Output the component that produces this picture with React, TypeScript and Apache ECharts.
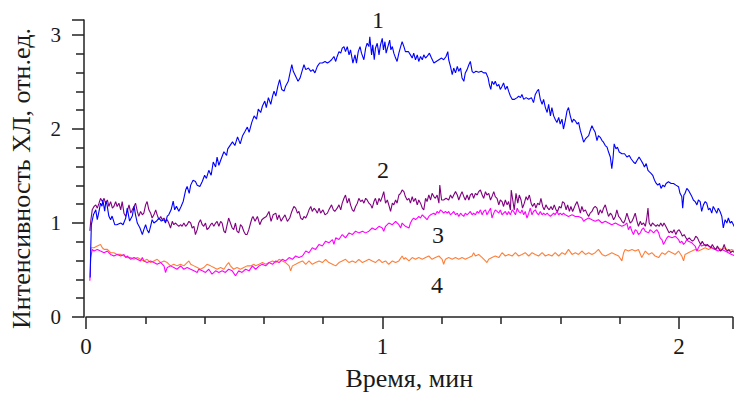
import React, { useEffect, useRef } from "react";
import * as echarts from "echarts";

// Time (min) / intensity (rel. units) pairs
const curve1Blue: number[][] = [
  [0.014,0.42],[0.016,0.737],[0.018,0.982],[0.025,1.087],[0.033,1.14],[0.038,1.035],[0.044,1.126],[0.049,1.211],[0.054,1.179],[0.057,1.245],
  [0.063,1.126],[0.067,1.232],[0.071,1.193],[0.077,1.074],[0.083,1.035],[0.088,1.074],[0.097,0.982],[0.104,0.982],[0.117,1.0],[0.125,0.982],
  [0.134,1.053],[0.139,1.158],[0.147,1.021],[0.156,1.074],[0.162,1.179],[0.167,1.087],[0.173,1.0],[0.182,0.947],[0.19,0.877],[0.195,0.929],
  [0.201,0.982],[0.206,0.929],[0.212,0.895],[0.218,0.968],[0.223,1.035],[0.229,1.0],[0.238,1.021],[0.246,1.053],[0.254,1.021],[0.263,1.035],
  [0.268,1.0],[0.274,1.074],[0.279,1.087],[0.287,1.14],[0.294,1.232],[0.299,1.14],[0.305,1.179],[0.313,1.126],[0.321,1.179],[0.328,1.232],
  [0.336,1.351],[0.341,1.389],[0.348,1.316],[0.353,1.403],[0.361,1.456],[0.369,1.442],[0.375,1.403],[0.384,1.389],[0.392,1.442],[0.4,1.508],
  [0.406,1.474],[0.414,1.561],[0.422,1.508],[0.429,1.649],[0.437,1.597],[0.442,1.702],[0.448,1.614],[0.456,1.684],[0.465,1.758],[0.474,1.719],
  [0.478,1.789],[0.494,1.863],[0.502,1.824],[0.511,1.916],[0.52,1.842],[0.528,1.929],[0.535,1.968],[0.544,2.021],[0.55,1.965],[0.559,2.071],
  [0.567,2.14],[0.575,2.105],[0.581,2.211],[0.589,2.176],[0.595,2.245],[0.603,2.298],[0.608,2.228],[0.615,2.334],[0.623,2.263],[0.629,2.351],
  [0.634,2.403],[0.64,2.351],[0.647,2.456],[0.653,2.526],[0.66,2.421],[0.668,2.403],[0.673,2.456],[0.682,2.508],[0.688,2.597],[0.694,2.684],
  [0.699,2.614],[0.707,2.561],[0.715,2.508],[0.722,2.544],[0.73,2.632],[0.735,2.684],[0.741,2.632],[0.75,2.649],[0.758,2.614],[0.765,2.632],
  [0.772,2.597],[0.78,2.666],[0.788,2.702],[0.797,2.702],[0.806,2.719],[0.814,2.702],[0.822,2.719],[0.828,2.737],[0.836,2.772],[0.842,2.719],
  [0.847,2.772],[0.853,2.824],[0.859,2.807],[0.864,2.86],[0.87,2.877],[0.875,2.824],[0.881,2.877],[0.887,2.789],[0.892,2.842],[0.9,2.702],
  [0.907,2.789],[0.912,2.702],[0.918,2.824],[0.924,2.877],[0.929,2.807],[0.937,2.737],[0.943,2.86],[0.948,2.913],[0.954,2.877],[0.957,2.982],
  [0.963,2.789],[0.967,2.895],[0.972,2.737],[0.976,2.86],[0.982,2.913],[0.988,2.789],[0.993,2.895],[0.999,2.965],[1.003,2.842],[1.008,2.929],
  [1.012,2.807],[1.018,2.877],[1.024,2.947],[1.028,2.842],[1.033,2.877],[1.038,2.807],[1.044,2.755],[1.049,2.719],[1.055,2.807],[1.061,2.877],
  [1.066,2.929],[1.072,2.877],[1.077,2.824],[1.087,2.824],[1.094,2.789],[1.1,2.755],[1.105,2.807],[1.111,2.737],[1.117,2.789],[1.122,2.719],
  [1.128,2.772],[1.134,2.737],[1.139,2.789],[1.145,2.755],[1.15,2.772],[1.158,2.807],[1.165,2.755],[1.173,2.702],[1.181,2.719],[1.19,2.737],
  [1.199,2.755],[1.206,2.737],[1.214,2.772],[1.22,2.824],[1.223,2.737],[1.229,2.666],[1.235,2.579],[1.24,2.649],[1.246,2.597],[1.252,2.666],
  [1.257,2.614],[1.263,2.649],[1.268,2.544],[1.274,2.508],[1.279,2.597],[1.285,2.632],[1.291,2.684],[1.296,2.719],[1.302,2.614],[1.307,2.597],
  [1.315,2.614],[1.324,2.603],[1.333,2.614],[1.341,2.597],[1.349,2.597],[1.356,2.544],[1.36,2.474],[1.365,2.421],[1.369,2.508],[1.375,2.474],
  [1.38,2.508],[1.386,2.456],[1.392,2.474],[1.397,2.421],[1.403,2.456],[1.408,2.491],[1.414,2.421],[1.42,2.456],[1.425,2.403],[1.431,2.351],
  [1.437,2.316],[1.445,2.316],[1.454,2.334],[1.459,2.351],[1.465,2.334],[1.47,2.368],[1.476,2.316],[1.484,2.334],[1.493,2.316],[1.502,2.334],
  [1.509,2.281],[1.515,2.368],[1.521,2.403],[1.526,2.421],[1.532,2.316],[1.538,2.263],[1.543,2.316],[1.549,2.228],[1.555,2.176],[1.56,2.263],
  [1.566,2.14],[1.571,2.228],[1.577,2.14],[1.582,2.105],[1.588,2.07],[1.594,2.123],[1.599,2.053],[1.605,2.105],[1.61,2.0],[1.616,2.087],
  [1.622,2.193],[1.627,2.228],[1.633,2.14],[1.639,2.07],[1.644,2.105],[1.65,2.087],[1.656,2.053],[1.661,2.07],[1.667,1.982],[1.672,1.929],
  [1.678,1.86],[1.684,1.895],[1.689,1.912],[1.695,1.929],[1.7,1.982],[1.706,2.035],[1.711,2.0],[1.717,1.965],[1.723,1.877],[1.728,1.929],
  [1.734,1.912],[1.74,1.877],[1.745,1.86],[1.751,1.824],[1.757,1.807],[1.762,1.755],[1.768,1.702],[1.773,1.579],[1.777,1.684],[1.781,1.842],
  [1.787,1.789],[1.792,1.807],[1.798,1.755],[1.807,1.737],[1.816,1.737],[1.824,1.702],[1.832,1.719],[1.838,1.684],[1.846,1.649],[1.852,1.632],
  [1.858,1.666],[1.865,1.702],[1.872,1.666],[1.878,1.632],[1.883,1.597],[1.889,1.632],[1.895,1.561],[1.9,1.544],[1.906,1.526],[1.911,1.508],
  [1.917,1.456],[1.923,1.421],[1.928,1.403],[1.934,1.421],[1.939,1.368],[1.945,1.403],[1.951,1.386],[1.956,1.421],[1.964,1.439],[1.973,1.421],
  [1.981,1.421],[1.989,1.403],[1.998,1.386],[2.003,1.316],[2.009,1.281],[2.012,1.158],[2.016,1.298],[2.02,1.316],[2.026,1.368],[2.031,1.351],
  [2.037,1.316],[2.043,1.281],[2.048,1.245],[2.054,1.228],[2.06,1.193],[2.065,1.245],[2.071,1.228],[2.076,1.123],[2.082,1.193],[2.088,1.228],
  [2.093,1.211],[2.099,1.14],[2.104,1.158],[2.11,1.105],[2.115,1.176],[2.121,1.14],[2.127,1.105],[2.132,1.158],[2.138,1.123],[2.144,1.07],
  [2.149,0.947],[2.155,1.035],[2.161,1.0],[2.166,1.053],[2.172,1.0],[2.177,1.018],[2.183,0.982],[2.194,0.912],[2.205,0.86]
];

const curve2Purple: number[][] = [
  [0.013,0.916],[0.016,1.021],[0.021,1.14],[0.027,1.176],[0.033,1.193],[0.038,1.158],[0.044,1.211],[0.049,1.263],[0.055,1.228],[0.061,1.263],
  [0.066,1.211],[0.072,1.245],[0.077,1.176],[0.083,1.228],[0.089,1.158],[0.094,1.176],[0.1,1.228],[0.105,1.176],[0.111,1.211],[0.117,1.14],
  [0.122,1.228],[0.128,1.105],[0.134,1.07],[0.139,1.123],[0.145,1.193],[0.151,1.105],[0.156,1.14],[0.162,1.176],[0.167,1.211],[0.173,1.123],
  [0.178,1.07],[0.184,1.123],[0.19,1.087],[0.195,1.105],[0.201,1.193],[0.206,1.228],[0.212,1.14],[0.218,1.105],[0.223,1.053],[0.229,1.087],
  [0.235,1.14],[0.24,1.087],[0.246,1.035],[0.252,1.07],[0.257,1.035],[0.263,1.053],[0.268,1.018],[0.274,1.035],[0.279,1.0],[0.285,0.947],
  [0.291,1.018],[0.296,0.982],[0.302,1.0],[0.307,0.982],[0.313,0.965],[0.319,0.982],[0.324,0.965],[0.33,1.0],[0.336,0.965],[0.341,0.982],
  [0.347,1.018],[0.353,1.0],[0.358,0.947],[0.364,0.965],[0.369,0.877],[0.375,0.929],[0.38,1.0],[0.386,1.035],[0.392,0.982],[0.397,0.965],
  [0.403,1.0],[0.408,0.929],[0.414,0.947],[0.42,0.982],[0.425,1.0],[0.431,0.965],[0.437,1.0],[0.442,1.018],[0.448,0.965],[0.454,1.018],
  [0.459,1.0],[0.465,0.913],[0.47,0.895],[0.476,0.982],[0.481,1.053],[0.487,1.0],[0.493,0.947],[0.498,0.929],[0.504,1.0],[0.509,0.913],
  [0.515,0.895],[0.521,0.982],[0.526,0.965],[0.532,0.913],[0.538,0.877],[0.543,0.877],[0.549,0.929],[0.555,1.0],[0.56,1.053],[0.563,1.07],
  [0.57,1.018],[0.578,1.07],[0.586,0.982],[0.593,1.035],[0.6,1.053],[0.608,1.07],[0.617,1.123],[0.624,1.018],[0.631,1.087],[0.64,1.105],
  [0.645,1.035],[0.651,1.087],[0.658,1.018],[0.664,1.053],[0.671,1.087],[0.679,1.018],[0.687,1.053],[0.694,1.123],[0.701,1.176],[0.707,1.158],
  [0.713,1.105],[0.718,1.123],[0.724,1.053],[0.73,1.035],[0.735,1.07],[0.741,1.053],[0.746,1.087],[0.752,1.14],[0.758,1.176],[0.763,1.123],
  [0.769,1.158],[0.774,1.14],[0.78,1.105],[0.786,1.158],[0.791,1.105],[0.799,1.14],[0.806,1.087],[0.814,1.105],[0.819,1.14],[0.828,1.193],
  [0.834,1.14],[0.839,1.123],[0.847,1.158],[0.853,1.193],[0.859,1.14],[0.864,1.211],[0.87,1.263],[0.875,1.298],[0.881,1.211],[0.887,1.263],
  [0.892,1.193],[0.898,1.14],[0.903,1.123],[0.909,1.176],[0.915,1.211],[0.92,1.263],[0.926,1.228],[0.932,1.245],[0.937,1.211],[0.943,1.263],
  [0.948,1.245],[0.954,1.211],[0.96,1.193],[0.965,1.158],[0.971,1.228],[0.976,1.263],[0.982,1.193],[0.988,1.263],[0.993,1.228],[0.999,1.281],
  [1.004,1.334],[1.01,1.211],[1.016,1.245],[1.021,1.193],[1.027,1.123],[1.033,1.211],[1.038,1.193],[1.044,1.245],[1.049,1.211],[1.055,1.298],
  [1.061,1.316],[1.066,1.351],[1.072,1.334],[1.077,1.281],[1.083,1.245],[1.089,1.263],[1.094,1.211],[1.1,1.281],[1.105,1.228],[1.111,1.263],
  [1.117,1.193],[1.122,1.245],[1.128,1.211],[1.134,1.158],[1.139,1.14],[1.145,1.263],[1.15,1.228],[1.156,1.298],[1.162,1.245],[1.167,1.316],
  [1.173,1.281],[1.178,1.263],[1.184,1.298],[1.19,1.211],[1.193,1.403],[1.199,1.245],[1.206,1.245],[1.214,1.263],[1.223,1.245],[1.229,1.298],
  [1.235,1.263],[1.24,1.298],[1.246,1.334],[1.252,1.298],[1.257,1.245],[1.263,1.298],[1.268,1.334],[1.274,1.281],[1.279,1.245],[1.285,1.298],
  [1.291,1.245],[1.296,1.298],[1.302,1.316],[1.307,1.263],[1.313,1.316],[1.319,1.298],[1.324,1.334],[1.33,1.351],[1.336,1.298],[1.341,1.263],
  [1.347,1.334],[1.352,1.298],[1.358,1.316],[1.364,1.245],[1.369,1.281],[1.375,1.334],[1.38,1.281],[1.386,1.263],[1.392,1.193],[1.397,1.245],
  [1.403,1.228],[1.408,1.176],[1.414,1.245],[1.42,1.193],[1.425,1.228],[1.431,1.14],[1.434,1.351],[1.439,1.245],[1.444,1.14],[1.45,1.316],
  [1.456,1.211],[1.461,1.298],[1.467,1.245],[1.472,1.158],[1.478,1.211],[1.484,1.281],[1.489,1.245],[1.495,1.298],[1.501,1.211],[1.506,1.176],
  [1.512,1.211],[1.517,1.158],[1.523,1.211],[1.529,1.193],[1.534,1.263],[1.54,1.176],[1.545,1.14],[1.551,1.193],[1.557,1.158],[1.562,1.14],
  [1.568,1.176],[1.573,1.14],[1.579,1.193],[1.585,1.14],[1.59,1.123],[1.596,1.176],[1.602,1.158],[1.607,1.228],[1.613,1.211],[1.619,1.14],
  [1.624,1.193],[1.63,1.123],[1.635,1.176],[1.641,1.123],[1.65,1.193],[1.656,1.228],[1.661,1.176],[1.667,1.105],[1.672,1.176],[1.678,1.123],
  [1.684,1.14],[1.689,1.105],[1.695,1.07],[1.7,1.105],[1.706,1.123],[1.711,1.158],[1.717,1.176],[1.723,1.158],[1.728,1.087],[1.734,1.14],
  [1.74,1.105],[1.745,1.158],[1.751,1.193],[1.757,1.123],[1.762,1.07],[1.768,1.105],[1.773,1.087],[1.779,1.035],[1.785,1.07],[1.79,1.14],
  [1.796,1.07],[1.801,1.053],[1.807,1.018],[1.813,1.0],[1.818,1.035],[1.824,1.105],[1.829,1.053],[1.835,1.0],[1.841,1.018],[1.846,1.053],
  [1.852,1.105],[1.858,1.018],[1.863,0.965],[1.869,1.018],[1.874,0.982],[1.88,1.0],[1.886,0.965],[1.891,1.053],[1.895,1.158],[1.899,1.0],
  [1.905,0.965],[1.91,1.0],[1.916,0.982],[1.922,0.965],[1.927,0.982],[1.933,0.965],[1.938,1.0],[1.944,0.965],[1.949,1.0],[1.955,0.965],
  [1.961,0.929],[1.966,0.895],[1.972,0.913],[1.977,0.895],[1.983,0.929],[1.989,0.877],[1.994,0.913],[2.0,0.929],[2.006,0.895],[2.011,0.86],
  [2.017,0.877],[2.023,0.842],[2.028,0.824],[2.034,0.842],[2.039,0.824],[2.045,0.807],[2.051,0.824],[2.056,0.86],[2.062,0.842],[2.067,0.807],
  [2.073,0.772],[2.078,0.807],[2.084,0.772],[2.09,0.755],[2.095,0.772],[2.101,0.755],[2.107,0.737],[2.112,0.772],[2.118,0.737],[2.124,0.719],
  [2.129,0.755],[2.135,0.719],[2.14,0.702],[2.146,0.719],[2.152,0.772],[2.157,0.719],[2.163,0.702],[2.168,0.719],[2.174,0.684],[2.179,0.702],
  [2.189,0.684],[2.2,0.666]
];

const curve3Magenta: number[][] = [
  [0.013,0.386],[0.016,0.632],[0.021,0.719],[0.027,0.702],[0.038,0.719],[0.049,0.702],[0.061,0.684],[0.072,0.702],[0.083,0.666],[0.094,0.649],
  [0.105,0.666],[0.117,0.649],[0.128,0.666],[0.134,0.632],[0.139,0.649],[0.151,0.614],[0.162,0.632],[0.173,0.614],[0.184,0.597],[0.19,0.632],
  [0.195,0.597],[0.206,0.579],[0.218,0.597],[0.229,0.579],[0.24,0.561],[0.252,0.579],[0.263,0.544],[0.268,0.474],[0.274,0.526],[0.285,0.544],
  [0.296,0.526],[0.307,0.508],[0.319,0.544],[0.33,0.508],[0.341,0.526],[0.353,0.508],[0.364,0.491],[0.375,0.474],[0.38,0.508],[0.392,0.491],
  [0.403,0.474],[0.414,0.508],[0.425,0.456],[0.437,0.491],[0.448,0.474],[0.459,0.491],[0.47,0.474],[0.481,0.508],[0.493,0.491],[0.504,0.439],
  [0.515,0.491],[0.526,0.474],[0.538,0.508],[0.55,0.491],[0.561,0.544],[0.572,0.508],[0.584,0.544],[0.595,0.561],[0.606,0.544],[0.617,0.579],
  [0.629,0.561],[0.64,0.597],[0.651,0.579],[0.662,0.614],[0.673,0.597],[0.685,0.632],[0.696,0.614],[0.707,0.649],[0.718,0.632],[0.73,0.649],
  [0.741,0.702],[0.752,0.684],[0.763,0.737],[0.774,0.719],[0.786,0.772],[0.797,0.755],[0.808,0.807],[0.819,0.789],[0.831,0.824],[0.836,0.772],
  [0.842,0.842],[0.853,0.824],[0.864,0.877],[0.875,0.842],[0.887,0.895],[0.898,0.877],[0.909,0.913],[0.92,0.895],[0.932,0.913],[0.943,0.895],
  [0.954,0.913],[0.965,0.947],[0.976,0.929],[0.988,0.965],[0.999,0.947],[1.004,0.913],[1.01,0.965],[1.021,1.0],[1.033,0.982],[1.044,1.018],
  [1.055,0.982],[1.061,0.947],[1.066,1.0],[1.077,0.965],[1.089,0.947],[1.094,1.0],[1.1,1.035],[1.105,1.053],[1.111,1.035],[1.117,1.053],
  [1.122,1.07],[1.128,1.053],[1.134,1.087],[1.139,1.07],[1.145,1.053],[1.15,1.035],[1.156,1.07],[1.162,1.087],[1.173,1.105],[1.178,1.087],
  [1.184,1.123],[1.19,1.105],[1.195,1.14],[1.201,1.123],[1.206,1.105],[1.212,1.123],[1.218,1.105],[1.223,1.123],[1.229,1.087],[1.235,1.105],
  [1.24,1.123],[1.246,1.087],[1.252,1.105],[1.257,1.07],[1.263,1.105],[1.268,1.087],[1.274,1.07],[1.279,1.105],[1.285,1.087],[1.291,1.105],
  [1.296,1.123],[1.302,1.087],[1.307,1.105],[1.313,1.087],[1.319,1.123],[1.324,1.105],[1.33,1.14],[1.336,1.087],[1.341,1.123],[1.347,1.14],
  [1.352,1.087],[1.358,1.123],[1.364,1.158],[1.369,1.053],[1.375,1.105],[1.38,1.14],[1.386,1.123],[1.392,1.105],[1.397,1.14],[1.403,1.087],
  [1.408,1.105],[1.414,1.123],[1.42,1.087],[1.425,1.123],[1.431,1.087],[1.437,1.14],[1.442,1.123],[1.448,1.087],[1.454,1.158],[1.459,1.123],
  [1.465,1.105],[1.47,1.14],[1.476,1.087],[1.481,1.123],[1.487,1.053],[1.493,1.105],[1.498,1.158],[1.504,1.087],[1.509,1.123],[1.515,1.14],
  [1.521,1.105],[1.526,1.087],[1.532,1.123],[1.538,1.087],[1.543,1.105],[1.549,1.087],[1.555,1.105],[1.56,1.087],[1.566,1.07],[1.571,1.087],
  [1.577,1.105],[1.582,1.087],[1.588,1.123],[1.594,1.087],[1.599,1.105],[1.605,1.087],[1.61,1.105],[1.616,1.087],[1.627,1.07],[1.639,1.087],
  [1.65,1.07],[1.661,1.07],[1.672,1.053],[1.678,1.018],[1.684,1.035],[1.695,1.053],[1.706,1.035],[1.717,1.018],[1.728,1.035],[1.74,1.0],
  [1.751,1.018],[1.762,1.0],[1.773,0.982],[1.785,1.0],[1.796,0.982],[1.807,0.965],[1.818,0.982],[1.824,1.0],[1.829,0.929],[1.835,0.965],
  [1.841,0.913],[1.846,0.877],[1.852,0.929],[1.858,0.913],[1.863,0.877],[1.869,0.895],[1.874,0.929],[1.88,0.947],[1.886,0.913],[1.897,0.895],
  [1.902,0.929],[1.908,0.913],[1.914,0.895],[1.919,0.913],[1.925,0.929],[1.931,0.895],[1.936,0.842],[1.942,0.824],[1.947,0.772],[1.953,0.807],
  [1.959,0.842],[1.964,0.86],[1.976,0.842],[1.987,0.86],[1.998,0.824],[2.003,0.789],[2.009,0.807],[2.015,0.772],[2.02,0.789],[2.026,0.824],
  [2.031,0.807],[2.043,0.789],[2.048,0.772],[2.054,0.755],[2.06,0.702],[2.065,0.737],[2.071,0.772],[2.076,0.755],[2.088,0.772],[2.099,0.755],
  [2.11,0.737],[2.121,0.719],[2.132,0.702],[2.144,0.719],[2.155,0.702],[2.166,0.684],[2.177,0.666],[2.189,0.649],[2.2,0.666]
];

const curve4Orange: number[][] = [
  [0.015,0.70],[0.017,0.737],[0.027,0.737],[0.038,0.755],[0.049,0.772],[0.055,0.737],[0.061,0.719],[0.072,0.719],[0.083,0.684],[0.094,0.684],
  [0.105,0.666],[0.117,0.666],[0.128,0.649],[0.139,0.632],[0.151,0.632],[0.162,0.614],[0.173,0.632],[0.184,0.614],[0.195,0.597],[0.206,0.614],
  [0.218,0.579],[0.229,0.597],[0.24,0.614],[0.252,0.579],[0.263,0.597],[0.274,0.579],[0.285,0.544],[0.296,0.561],[0.307,0.544],[0.319,0.561],
  [0.33,0.544],[0.341,0.579],[0.347,0.597],[0.353,0.561],[0.364,0.544],[0.375,0.526],[0.386,0.508],[0.397,0.526],[0.408,0.561],[0.42,0.544],
  [0.431,0.526],[0.442,0.508],[0.454,0.526],[0.465,0.508],[0.476,0.561],[0.481,0.579],[0.487,0.544],[0.498,0.508],[0.509,0.526],[0.521,0.508],
  [0.532,0.526],[0.543,0.544],[0.555,0.544],[0.566,0.561],[0.572,0.544],[0.584,0.561],[0.595,0.579],[0.606,0.561],[0.617,0.579],[0.629,0.597],
  [0.64,0.579],[0.651,0.614],[0.662,0.597],[0.673,0.579],[0.685,0.544],[0.69,0.491],[0.696,0.544],[0.707,0.561],[0.718,0.579],[0.73,0.597],
  [0.741,0.561],[0.752,0.597],[0.763,0.561],[0.774,0.579],[0.786,0.597],[0.797,0.579],[0.808,0.614],[0.819,0.579],[0.831,0.561],[0.842,0.544],
  [0.853,0.579],[0.864,0.597],[0.875,0.614],[0.887,0.579],[0.898,0.597],[0.909,0.579],[0.92,0.614],[0.932,0.579],[0.943,0.597],[0.954,0.614],
  [0.965,0.597],[0.976,0.579],[0.988,0.614],[0.999,0.579],[1.01,0.597],[1.021,0.561],[1.033,0.597],[1.044,0.579],[1.055,0.597],[1.066,0.649],
  [1.072,0.614],[1.077,0.632],[1.089,0.597],[1.1,0.632],[1.111,0.614],[1.122,0.632],[1.134,0.614],[1.145,0.632],[1.156,0.649],[1.167,0.614],
  [1.178,0.632],[1.19,0.649],[1.201,0.614],[1.206,0.561],[1.212,0.614],[1.223,0.632],[1.235,0.614],[1.246,0.632],[1.257,0.614],[1.268,0.632],
  [1.279,0.614],[1.291,0.632],[1.302,0.649],[1.307,0.684],[1.313,0.649],[1.324,0.666],[1.336,0.632],[1.347,0.597],[1.352,0.579],[1.358,0.614],
  [1.369,0.632],[1.38,0.649],[1.392,0.632],[1.403,0.684],[1.414,0.649],[1.425,0.666],[1.437,0.649],[1.448,0.684],[1.459,0.649],[1.47,0.666],
  [1.481,0.684],[1.493,0.649],[1.504,0.684],[1.515,0.666],[1.526,0.649],[1.538,0.684],[1.549,0.649],[1.56,0.666],[1.571,0.649],[1.582,0.684],
  [1.594,0.649],[1.605,0.684],[1.616,0.666],[1.627,0.719],[1.639,0.666],[1.65,0.684],[1.661,0.666],[1.672,0.702],[1.684,0.666],[1.695,0.684],
  [1.706,0.666],[1.717,0.684],[1.728,0.719],[1.74,0.666],[1.751,0.649],[1.762,0.666],[1.773,0.684],[1.785,0.666],[1.796,0.649],[1.807,0.597],
  [1.813,0.684],[1.818,0.719],[1.829,0.702],[1.841,0.719],[1.852,0.702],[1.863,0.719],[1.874,0.632],[1.886,0.702],[1.897,0.666],[1.908,0.684],
  [1.919,0.649],[1.931,0.632],[1.942,0.684],[1.953,0.666],[1.964,0.702],[1.976,0.684],[1.987,0.666],[1.998,0.702],[2.009,0.649],[2.015,0.597],
  [2.02,0.666],[2.031,0.684],[2.043,0.702],[2.054,0.719],[2.065,0.702],[2.076,0.719],[2.088,0.737],[2.099,0.719],[2.11,0.737],[2.121,0.719],
  [2.132,0.737],[2.144,0.719],[2.155,0.737],[2.166,0.702],[2.177,0.719],[2.189,0.702],[2.2,0.719]
];

const curveNames = ["1", "2", "3", "4"];
const curveColors = ["#0000ff", "#800080", "#ff00ff", "#ff7f3a"];
const xTickLabels = ["0", "1", "2"];
const yTickLabels = ["0", "1", "2", "3"];

const FONT = "'Liberation Serif', 'Times New Roman', serif";
const TEXT = "#1a1a1a";

export default function App() {
  const ref = useRef<HTMLDivElement>(null);

  useEffect(() => {
    document.body.style.margin = "0";
    if (!ref.current) return;
    const chart = echarts.init(ref.current, null, { renderer: "svg" });
    const data = [curve1Blue, curve2Purple, curve3Magenta, curve4Orange];

    const axisLineStyle = { color: "#222", width: 1.5 };

    chart.setOption({
      animation: false,
      backgroundColor: "#ffffff",
      grid: { left: 85, right: 8.5, top: 20, bottom: 76, containLabel: false },
      xAxis: {
        type: "value",
        min: 0,
        max: 2.18,
        interval: 1,
        name: "Время, мин",
        nameLocation: "middle",
        nameGap: 48,
        nameTextStyle: { fontFamily: FONT, fontSize: 26, color: TEXT },
        axisLine: { show: true, onZero: false, lineStyle: axisLineStyle },
        axisTick: { show: true, inside: false, length: 12, lineStyle: { color: "#222", width: 1.5 } },
        minorTick: { show: true, splitNumber: 5, length: 7, lineStyle: { color: "#222", width: 1.5 } },
        splitLine: { show: false },
        minorSplitLine: { show: false },
        axisLabel: {
          margin: 18,
          fontFamily: FONT,
          fontSize: 23,
          color: TEXT,
          formatter: (v: number) => {
            const i = Math.round(v);
            return Math.abs(v - i) < 1e-6 && xTickLabels[i] !== undefined ? xTickLabels[i] : "";
          },
        },
      },
      yAxis: {
        type: "value",
        min: 0,
        max: 3.16,
        interval: 1,
        offset: 2,
        name: "Интенсивность ХЛ, отн.ед.",
        nameLocation: "middle",
        nameGap: 50,
        nameRotate: 90,
        nameTextStyle: { fontFamily: FONT, fontSize: 26, color: TEXT, padding: [0, 20, 0, 0] },
        axisLine: { show: true, onZero: false, lineStyle: axisLineStyle },
        axisTick: { show: true, inside: false, length: 12, lineStyle: { color: "#222", width: 1.5 } },
        minorTick: { show: true, splitNumber: 5, length: 8, lineStyle: { color: "#222", width: 1.5 } },
        splitLine: { show: false },
        minorSplitLine: { show: false },
        axisLabel: {
          margin: 23,
          fontFamily: FONT,
          fontSize: 21,
          color: TEXT,
          formatter: (v: number) => {
            const i = Math.round(v);
            return Math.abs(v - i) < 1e-6 && yTickLabels[i] !== undefined ? yTickLabels[i] : "";
          },
        },
      },
      series: data.map((d, i) => ({
        name: curveNames[i],
        type: "line",
        data: d,
        showSymbol: false,
        symbol: "none",
        clip: false,
        z: 10 - i,
        lineStyle: { color: curveColors[i], width: 1.1 },
        itemStyle: { color: curveColors[i] },
      })),
      graphic: [
        { type: "text", left: 372, top: 8, style: { text: curveNames[0], font: `24px ${FONT}`, fill: TEXT } },
        { type: "text", left: 377, top: 158, style: { text: curveNames[1], font: `24px ${FONT}`, fill: TEXT } },
        { type: "text", left: 432, top: 223, style: { text: curveNames[2], font: `24px ${FONT}`, fill: TEXT } },
        { type: "text", left: 431, top: 273, style: { text: curveNames[3], font: `24px ${FONT}`, fill: TEXT } },
      ],
    });

    return () => chart.dispose();
  }, []);

  return <div ref={ref} style={{ width: 741, height: 396, position: "absolute", left: 0, top: 0 }} />;
}
